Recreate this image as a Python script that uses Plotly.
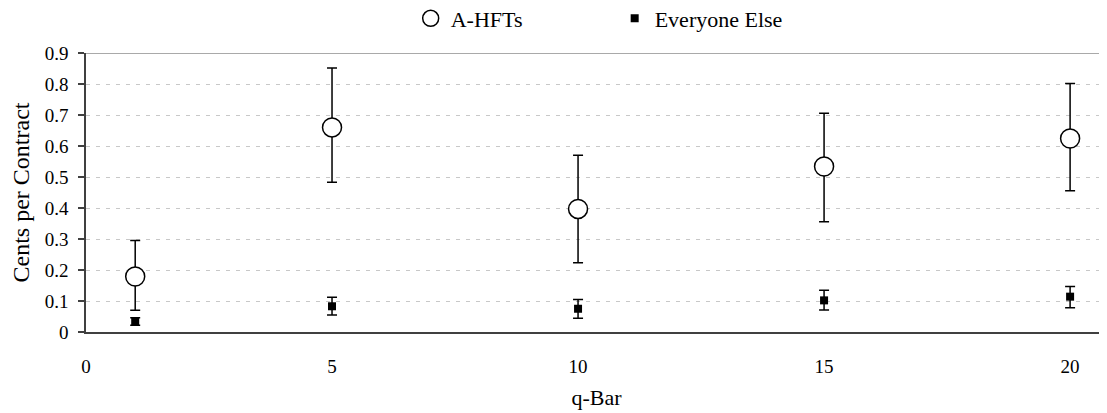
import plotly.graph_objects as go

q_bar = [1, 5, 10, 15, 20]

hft_value = [0.179, 0.660, 0.397, 0.534, 0.624]
hft_upper = [0.295, 0.852, 0.570, 0.706, 0.802]
hft_lower = [0.070, 0.483, 0.223, 0.356, 0.456]

else_value = [0.034, 0.083, 0.075, 0.102, 0.114]
else_upper = [0.046, 0.112, 0.105, 0.135, 0.147]
else_lower = [0.022, 0.055, 0.044, 0.071, 0.078]

y_ticks = [0, 0.1, 0.2, 0.3, 0.4, 0.5, 0.6, 0.7, 0.8, 0.9]
y_labels = ["0", "0.1", "0.2", "0.3", "0.4", "0.5", "0.6", "0.7", "0.8", "0.9"]
x_ticks = [0, 5, 10, 15, 20]

FONT = "Liberation Serif, Times New Roman, serif"

fig = go.Figure()

fig.add_trace(go.Scatter(
    x=q_bar, y=hft_value, mode="markers", name="A-HFTs",
    marker=dict(symbol="circle", size=19, color="white",
                line=dict(color="black", width=1.5)),
    error_y=dict(type="data", symmetric=False,
                 array=[u - v for u, v in zip(hft_upper, hft_value)],
                 arrayminus=[v - l for v, l in zip(hft_value, hft_lower)],
                 color="black", thickness=1.5, width=5),
))

fig.add_trace(go.Scatter(
    x=q_bar, y=else_value, mode="markers", name="Everyone Else",
    marker=dict(symbol="square", size=8, color="black",
                line=dict(color="black", width=0)),
    error_y=dict(type="data", symmetric=False,
                 array=[u - v for u, v in zip(else_upper, else_value)],
                 arrayminus=[v - l for v, l in zip(else_value, else_lower)],
                 color="black", thickness=1.5, width=5),
))

# top border line of the plot area
fig.add_shape(type="line", xref="paper", yref="y", x0=0, x1=1, y0=0.9, y1=0.9,
              line=dict(color="#8c8c8c", width=1.5), layer="below")

fig.update_layout(
    width=1099, height=405,
    margin=dict(l=78, r=0, t=45, b=81),
    paper_bgcolor="white", plot_bgcolor="white",
    font=dict(family=FONT, size=19, color="black"),
    showlegend=True,
    legend=dict(orientation="h", x=0.318, xanchor="left",
                yref="container", y=1 - 10.5 / 405, yanchor="middle",
                font=dict(family=FONT, size=22, color="black"),
                entrywidth=159, entrywidthmode="pixels",
                bgcolor="rgba(0,0,0,0)"),
    xaxis=dict(range=[0, 20.75], tickvals=x_ticks, showgrid=False, zeroline=False,
               showline=True, linecolor="#404040", linewidth=1.5,
               ticks="", ticklabelstandoff=16, automargin=False,
               tickfont=dict(family=FONT, size=19, color="black"),
               title=dict(text="q-Bar", standoff=14,
                          font=dict(family=FONT, size=22, color="black"))),
    yaxis=dict(range=[0, 0.9], tickvals=y_ticks, ticktext=y_labels,
               showgrid=True, gridcolor="#c8c8c8", griddash="4px,6px", gridwidth=1,
               zeroline=False, showline=True, linecolor="#404040", linewidth=1.5,
               ticks="outside", ticklen=6, tickcolor="#404040", tickwidth=1.5,
               ticklabelstandoff=6, automargin=False,
               tickfont=dict(family=FONT, size=19, color="black"),
               title=dict(text="Cents per Contract", standoff=10,
                          font=dict(family=FONT, size=24, color="black"))),
)

fig.write_html("out.html")
